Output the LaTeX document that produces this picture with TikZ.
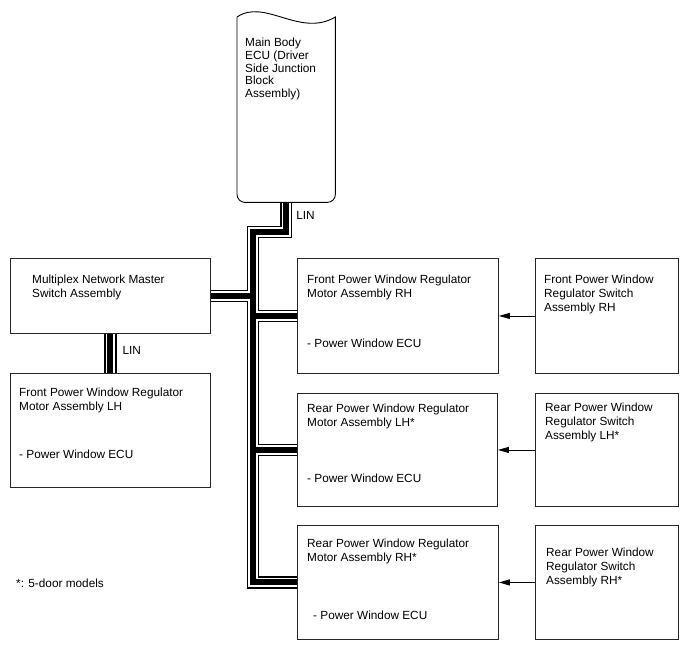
\documentclass[tikz,border=0pt]{standalone}
\usepackage{fontspec}
\setmainfont{Liberation Sans}
\usetikzlibrary{arrows.meta, positioning, backgrounds}

\begin{document}
\begin{tikzpicture}[
  x=1pt, y=-1pt,
  box/.style={draw=black!85, line width=0.9pt, fill=white, inner sep=0pt, anchor=north west},
  txt/.style={font=\fontsize{11.8}{13.8}\selectfont, align=left, inner sep=0pt},
  busout/.style={line width=12.4pt, line join=miter},
  busgap/.style={line width=9.4pt, white, line join=miter},
  buscore/.style={line width=6pt, line join=miter},
  sig/.style={line width=0.9pt, -{Triangle[length=11pt,width=6pt]}},
  node distance=10pt
]
\useasboundingbox (0,0) rectangle (688,658);

% Main body ECU
\node[inner sep=0pt, minimum width=98pt, minimum height=185pt, anchor=north west] (ecu) at (237,17) {};
\draw[line width=0.9pt, fill=white]
  (ecu.north west) -- ++(0,20) [rounded corners=8pt] -- (ecu.south west) -- (ecu.south east)
  -- ++(0,-20) [sharp corners] -- (ecu.north east)
  .. controls (300,38) and (265,-2) .. (ecu.north west);
\node[txt, font=\fontsize{11.8}{12.7}\selectfont, below right=21pt and 8pt of ecu.north west] (ecu-t)
  {Main Body\\ECU (Driver\\Side Junction\\Block\\Assembly)};

% Boxes
\node[box, minimum width=200pt, minimum height=75pt] (msw) at (10,258) {};
\node[box, minimum width=200pt, minimum height=114pt] (flh) at (10,373) {};
\node[box, minimum width=201pt, minimum height=115pt] (frh) at (297,258) {};
\node[box, minimum width=200pt, minimum height=113pt] (rlh) at (297,393) {};
\node[box, minimum width=201pt, minimum height=114pt] (rrh) at (297,525) {};
\node[box, minimum width=143pt, minimum height=115pt] (sfr) at (535,258) {};
\node[box, minimum width=143pt, minimum height=113pt] (srl) at (535,393) {};
\node[box, minimum width=143pt, minimum height=114pt] (srr) at (535,525) {};

% Box texts
\node[txt, below right=16.7pt and 22pt of msw.north west] (msw-t) {Multiplex Network Master\\Switch Assembly};
\node[txt, below right=14.5pt and 9pt of flh.north west] (flh-t) {Front Power Window Regulator\\Motor Assembly LH};
\node[txt, below right=76.7pt and 9pt of flh.north west] (flh-e) {- Power Window ECU};
\node[txt, below right=16.7pt and 10pt of frh.north west] (frh-t) {Front Power Window Regulator\\Motor Assembly RH};
\node[txt, below right=80.7pt and 10pt of frh.north west] (frh-e) {- Power Window ECU};
\node[txt, below right=10.7pt and 10pt of rlh.north west] (rlh-t) {Rear Power Window Regulator\\Motor Assembly LH*};
\node[txt, below right=80.7pt and 10pt of rlh.north west] (rlh-e) {- Power Window ECU};
\node[txt, below right=13.7pt and 10pt of rrh.north west] (rrh-t) {Rear Power Window Regulator\\Motor Assembly RH*};
\node[txt, below right=85.7pt and 16pt of rrh.north west] (rrh-e) {- Power Window ECU};
\node[txt, below right=16.7pt and 9pt of sfr.north west] (sfr-t) {Front Power Window\\Regulator Switch\\Assembly RH};
\node[txt, below right=9.7pt and 10pt of srl.north west] (srl-t) {Rear Power Window\\Regulator Switch\\Assembly LH*};
\node[txt, below right=22.7pt and 11pt of srr.north west] (srr-t) {Rear Power Window\\Regulator Switch\\Assembly RH*};

% LIN bus
\coordinate (bend) at (253,232);
\begin{scope}[on background layer]
\foreach \s in {busout, busgap, buscore} {
  \draw[\s] (ecu.south) |- (bend) |- (rrh.west);
  \draw[\s] (msw.east) -- (msw.east -| bend);
  \draw[\s] (frh.west -| bend) -- (frh.west);
  \draw[\s] (rlh.west -| bend) -- (rlh.west);
  \draw[\s] (msw.south) -- (flh.north);
}
\end{scope}
\node[txt, below right=8.7pt and 10pt of ecu.south] (lin1) {LIN};
\node[txt, below right=12.7pt and 12pt of msw.south] (lin2) {LIN};

% Switch signals
\draw[sig] (sfr.west) -- (frh.east);
\draw[sig] (srl.west) -- (rlh.east);
\draw[sig] (srr.west) -- (rrh.east);

\node[txt, anchor=west] (note) at (16,583) {*: 5-door models};
\end{tikzpicture}
\end{document}
